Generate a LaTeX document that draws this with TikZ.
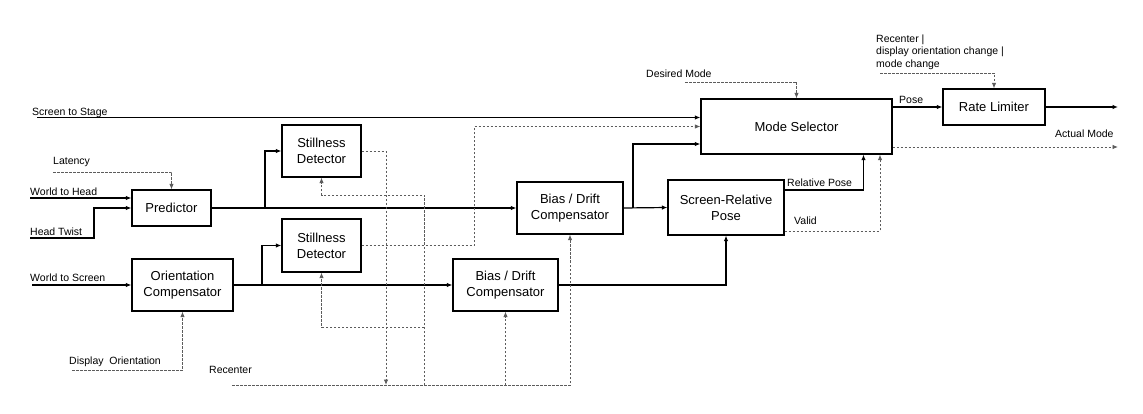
\documentclass[tikz,border=0pt]{standalone}
\usepackage{fontspec}
\setmainfont{Liberation Sans}
\usetikzlibrary{arrows.meta,calc}
\definecolor{ctrlgray}{HTML}{5C5C5C}

\begin{document}
\begin{tikzpicture}[x=1pt,y=-1pt,
  block/.style={draw, line width=1.2pt, inner sep=0pt, align=center, font=\fontsize{13}{16}\selectfont},
  lbl/.style={anchor=base west, inner sep=0pt, font=\fontsize{10.5}{12.5}\selectfont},
  flow/.style={line width=1.2pt, -{Latex[length=5.5pt,width=4.5pt]}},
  ctrl/.style={ctrlgray, line width=0.9pt, dash pattern=on 2.5pt off 1.5pt, -{Latex[length=5.5pt,width=4.5pt]}}]
  \useasboundingbox (0,0) rectangle (1143,414);

  \node[block, minimum width=79pt, minimum height=36pt] (pred) at (171.5,208) {Predictor};
  \node[block, minimum width=79pt, minimum height=52pt] (sd1) at (321.5,151) {Stillness\\Detector};
  \node[block, minimum width=79pt, minimum height=53pt] (sd2) at (321.5,245.5) {Stillness\\Detector};
  \node[block, minimum width=101pt, minimum height=52pt] (oc) at (182.5,285) {Orientation\\Compensator};
  \node[block, minimum width=106pt, minimum height=52pt] (bdc1) at (570,208) {Bias / Drift\\Compensator};
  \node[block, minimum width=105pt, minimum height=52pt] (bdc2) at (505.5,285) {Bias / Drift\\Compensator};
  \node[block, minimum width=116pt, minimum height=55pt] (srp) at (726,207.5) {Screen-Relative\\Pose};
  \node[block, minimum width=191pt, minimum height=55pt] (ms) at (796.5,126.5) {Mode Selector};
  \node[block, minimum width=102pt, minimum height=36pt] (rl) at (994,107) {Rate Limiter};

  \node[lbl] (lsts) at (32,116) {Screen to Stage};
  \node[lbl] (llat) at (53,164.5) {Latency};
  \node[lbl] (lwth) at (30,196) {World to Head};
  \node[lbl] (lht) at (30,236) {Head Twist};
  \node[lbl] (lwts) at (30,281.5) {World to Screen};
  \node[lbl] (ldo) at (69,364) {Display\ \ Orientation};
  \node[lbl] (lrec) at (209,373) {Recenter};
  \node[lbl] (ldm) at (646,78) {Desired Mode};
  \node[lbl, anchor=north west, align=left] (lrcm) at (876,34.5) {Recenter |\\display orientation change |\\mode change};
  \node[lbl] (lpose) at (899,104) {Pose};
  \node[lbl] (lam) at (1055,137.3) {Actual Mode};
  \node[lbl] (lrp) at (787,186.5) {Relative Pose};
  \node[lbl] (lval) at (794,225) {Valid};

  \coordinate (sts) at (37,117.5);
  \coordinate (lat) at (53,172);
  \coordinate (wth) at (30,198);
  \coordinate (ht) at (30,238);
  \coordinate (wts) at (32,285);
  \coordinate (dor) at (72,370);
  \coordinate (rec) at (232,385);
  \coordinate (dm) at (685,82);
  \coordinate (rcm) at (880,73);
  \coordinate (out) at (1118,107);
  \coordinate (am) at (1118,147);
  \coordinate (j1) at (265,208);
  \coordinate (j2) at (262,285);
  \coordinate (j3) at (633,208);
  \coordinate (j4) at (424,385);
  \coordinate (j5) at (424,327);
  \coordinate (j6) at (505.5,385);
  \coordinate (j7) at (386,385);

  \draw[flow] (sts) -- (sts -| ms.west);
  \draw[ctrl] (lat) -| (pred.north);
  \draw[flow] (wth) -- (wth -| pred.west);
  \draw[flow] (ht) -- ++(64,0) |- (pred.west);
  \draw[flow] (wts) -- (oc.west);
  \draw[ctrl] (dor) -| (oc.south);

  \draw[flow] (pred.east) -- (bdc1.west);
  \draw[flow] (j1) |- (sd1.west);
  \draw[flow] (oc.east) -- (bdc2.west);
  \draw[flow] (j2) |- (sd2.west);
  \draw[flow] (bdc1.east) -- (srp.west);
  \draw[flow] (j3) |- ($(ms.west)+(0,17.5)$);
  \draw[flow] (bdc2.east) -| (srp.south);

  \draw[ctrl] (sd1.east) -| (j7);
  \draw[ctrl] (sd2.east) -- ++(113,0) |- (ms.west);
  \draw[ctrl] (rec) -| (bdc1.south);
  \draw[ctrl] (j4) -- ++(0,-190) -| (sd1.south);
  \draw[ctrl] (j5) -| (sd2.south);
  \draw[ctrl] (j6) -- (bdc2.south);

  \draw[ctrl] (dm) -| (ms.north);
  \draw[flow] ($(srp.east)+(0,-17.5)$) -| ($(ms.south)+(67,0)$);
  \draw[ctrl] ($(srp.east)+(0,23.5)$) -| ($(ms.south)+(83.5,0)$);
  \draw[flow] (rl.west -| ms.east) -- (rl.west);
  \draw[ctrl] (am -| ms.east) -- (am);
  \draw[ctrl] (rcm) -| (rl.north);
  \draw[flow] (rl.east) -- (out);
\end{tikzpicture}
\end{document}
